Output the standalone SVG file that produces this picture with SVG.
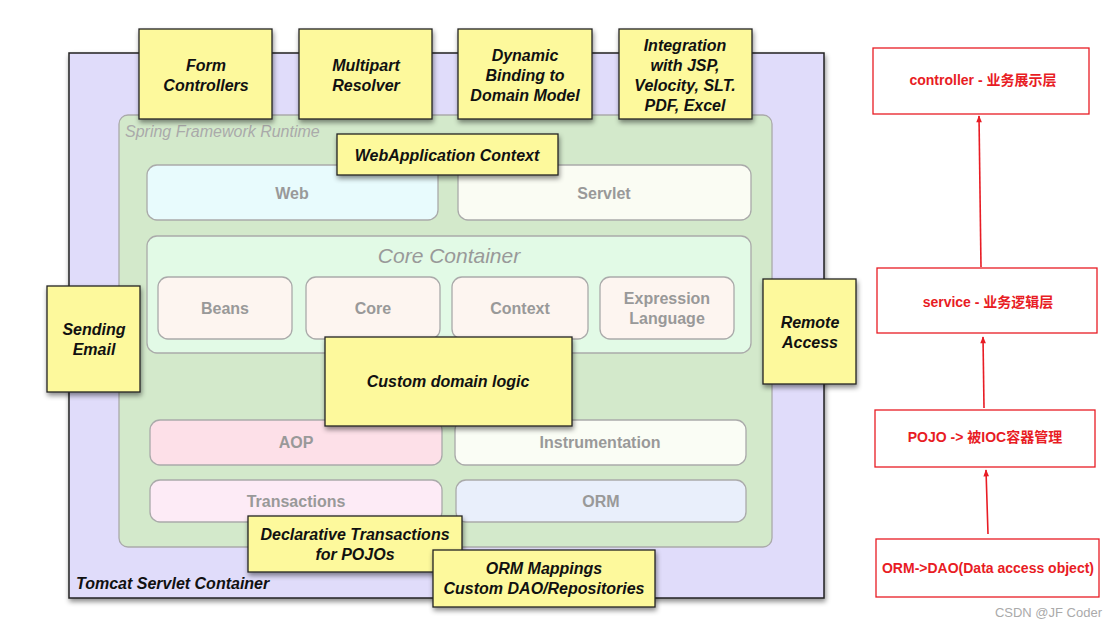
<svg xmlns="http://www.w3.org/2000/svg" width="1119" height="628" viewBox="0 0 1119 628">
<defs>
<filter id="sh" x="-10%" y="-10%" width="130%" height="140%">
<feDropShadow dx="1" dy="3" stdDeviation="2.5" flood-color="#000" flood-opacity="0.45"/>
</filter>
<marker id="ah" viewBox="0 0 10 10" refX="9" refY="5" markerWidth="10" markerHeight="7" orient="auto" markerUnits="userSpaceOnUse">
<path d="M0,1 L10,5 L0,9 z" fill="#e81c24"/>
</marker>
<style>
.y{fill:#fdf99c;stroke:#222;stroke-width:1.3;filter:url(#sh)}
.yt{font-family:"Liberation Sans",Arial,sans-serif;font-weight:bold;font-style:italic;font-size:16px;fill:#111;text-anchor:middle}
.m{stroke:#aaa;stroke-width:1.3}
.mt{font-family:"Liberation Sans",Arial,sans-serif;font-weight:bold;font-size:16px;fill:#999;text-anchor:middle}
.r{fill:#fff;stroke:#e81c24;stroke-width:1.3}
.rt{font-family:"Liberation Sans","Noto Sans CJK SC",sans-serif;font-weight:bold;font-size:14px;fill:#e81c24;text-anchor:middle}
.c{stroke:#e81c24;stroke-width:1.6;fill:none;marker-end:url(#ah)}
</style>
</defs>
<rect width="1119" height="628" fill="#fff"/>
<g id="tomcat">
<rect x="69" y="53" width="755" height="545" fill="#e0dcfa" stroke="#222" stroke-width="1.5" filter="url(#sh)"/>
<text x="76" y="589" font-family="Liberation Sans,Arial,sans-serif" font-weight="bold" font-style="italic" font-size="16" fill="#111">Tomcat Servlet Container</text>
</g>
<g id="spring">
<rect x="119" y="115" width="653" height="432" rx="9" fill="#d3e9cb" stroke="#aaa" stroke-width="1.3"/>
<text x="125" y="137" font-family="Liberation Sans,Arial,sans-serif" font-style="italic" font-size="16" fill="#aaa">Spring Framework Runtime</text>
</g>
<g id="web"><rect class="m" x="147" y="165" width="291" height="55" rx="10" fill="#e8fbfd"/><text class="mt" x="292" y="199">Web</text></g>
<g id="servlet"><rect class="m" x="458" y="165" width="293" height="55" rx="10" fill="#fafcf3"/><text class="mt" x="604" y="199">Servlet</text></g>
<g id="core-container">
<rect class="m" x="147" y="236" width="604" height="117" rx="10" fill="#e2fae6"/>
<text x="449" y="263" font-family="Liberation Sans,Arial,sans-serif" font-style="italic" font-size="21" fill="#999" text-anchor="middle">Core Container</text>
</g>
<g id="beans"><rect class="m" x="158" y="277" width="134" height="62" rx="10" fill="#fdf5f0"/><text class="mt" x="225" y="314">Beans</text></g>
<g id="core"><rect class="m" x="306" y="277" width="134" height="62" rx="10" fill="#fdf5f0"/><text class="mt" x="373" y="314">Core</text></g>
<g id="context"><rect class="m" x="452" y="277" width="136" height="62" rx="10" fill="#fdf5f0"/><text class="mt" x="520" y="314">Context</text></g>
<g id="expression"><rect class="m" x="600" y="277" width="134" height="62" rx="10" fill="#fdf5f0"/><text class="mt" x="667" y="304">Expression</text><text class="mt" x="667" y="324">Language</text></g>
<g id="aop"><rect class="m" x="150" y="420" width="292" height="45" rx="10" fill="#fde0e8"/><text class="mt" x="296" y="448">AOP</text></g>
<g id="instrumentation"><rect class="m" x="455" y="420" width="291" height="45" rx="10" fill="#fafdf5"/><text class="mt" x="600" y="448">Instrumentation</text></g>
<g id="transactions"><rect class="m" x="150" y="480" width="292" height="42" rx="10" fill="#fdebf6"/><text class="mt" x="296" y="507">Transactions</text></g>
<g id="orm"><rect class="m" x="456" y="480" width="290" height="42" rx="10" fill="#e9effb"/><text class="mt" x="601" y="507">ORM</text></g>
<g id="form-controllers"><rect class="y" x="139" y="29" width="133" height="90"/><text class="yt" x="206" y="71">Form</text><text class="yt" x="206" y="91">Controllers</text></g>
<g id="multipart"><rect class="y" x="299" y="29" width="133" height="90"/><text class="yt" x="366" y="71">Multipart</text><text class="yt" x="366" y="91">Resolver</text></g>
<g id="dynamic-binding"><rect class="y" x="458" y="29" width="134" height="90"/><text class="yt" x="525" y="61">Dynamic</text><text class="yt" x="525" y="81">Binding to</text><text class="yt" x="525" y="101">Domain Model</text></g>
<g id="integration"><rect class="y" x="619" y="29" width="133" height="90"/><text class="yt" x="685" y="51">Integration</text><text class="yt" x="685" y="71">with JSP,</text><text class="yt" x="685" y="91">Velocity, SLT.</text><text class="yt" x="685" y="111">PDF, Excel</text></g>
<g id="webapp-context"><rect class="y" x="337" y="134" width="221" height="41"/><text class="yt" x="447" y="161">WebApplication Context</text></g>
<g id="sending-email"><rect class="y" x="47" y="286" width="93" height="106"/><text class="yt" x="94" y="335">Sending</text><text class="yt" x="94" y="355">Email</text></g>
<g id="remote-access"><rect class="y" x="763" y="279" width="93" height="105"/><text class="yt" x="810" y="328">Remote</text><text class="yt" x="810" y="348">Access</text></g>
<g id="custom-domain"><rect class="y" x="325" y="337" width="247" height="89"/><text class="yt" x="448" y="387">Custom domain logic</text></g>
<g id="declarative-tx"><rect class="y" x="248" y="516" width="214" height="56"/><text class="yt" x="355" y="540">Declarative Transactions</text><text class="yt" x="355" y="560">for POJOs</text></g>
<g id="orm-mappings"><rect class="y" x="433" y="550" width="222" height="57"/><text class="yt" x="544" y="574">ORM Mappings</text><text class="yt" x="544" y="594">Custom DAO/Repositories</text></g>
<g id="controller-layer"><rect class="r" x="873" y="48" width="216" height="66"/><text class="rt" x="983" y="85">controller - 业务展示层</text></g>
<g id="service-layer"><rect class="r" x="877" y="268" width="220" height="65"/><text class="rt" x="988" y="307">service - 业务逻辑层</text></g>
<g id="pojo-layer"><rect class="r" x="875" y="410" width="220" height="57"/><text class="rt" x="985" y="442">POJO -&gt; 被IOC容器管理</text></g>
<g id="orm-layer"><rect class="r" x="876" y="539" width="223" height="58"/><text class="rt" x="988" y="573">ORM-&gt;DAO(Data access object)</text></g>
<g id="connectors">
<path class="c" d="M981,267 L979,116"/>
<path class="c" d="M984,408 L983,337"/>
<path class="c" d="M988,534 L986,470"/>
</g>
<text x="1102" y="617" font-family="Liberation Sans,Arial,sans-serif" font-size="13" fill="#aaa" text-anchor="end">CSDN @JF Coder</text>
</svg>
